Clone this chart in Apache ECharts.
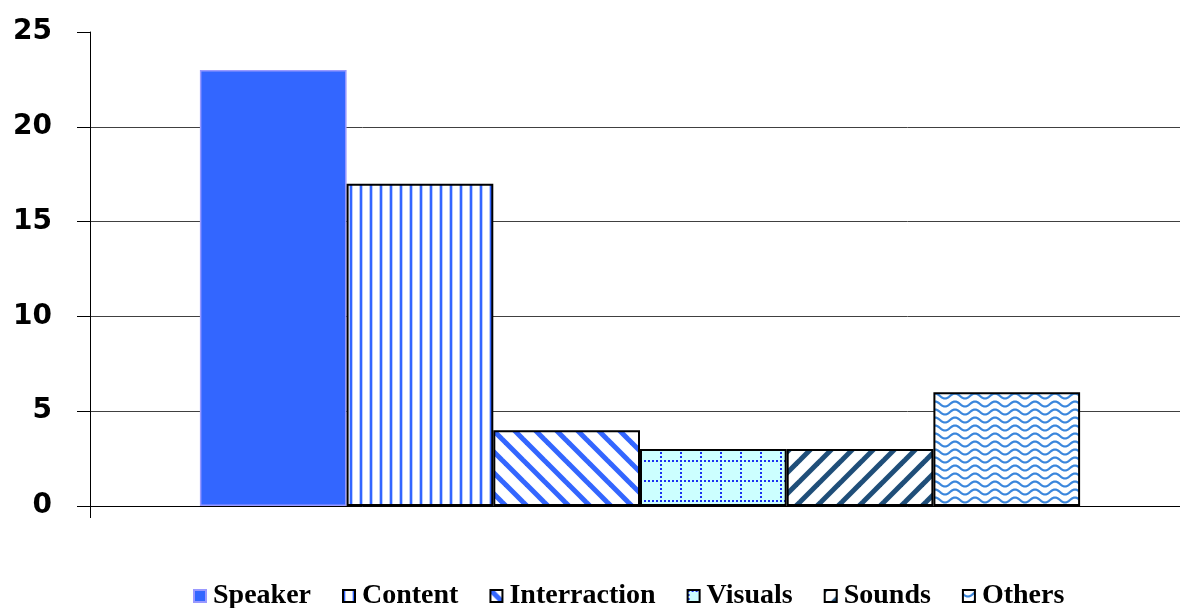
<!DOCTYPE html>
<html>
<head>
<meta charset="utf-8">
<script src="https://cdn.jsdelivr.net/npm/echarts@6.0.0/dist/echarts.min.js"></script>
<style>
  html, body { margin: 0; padding: 0; background: #fff; }
  #main { width: 1180px; height: 608px; }
</style>
</head>
<body>
<div id="main"></div>
<script>
// data
var categories = [''];
var seriesNames = ['Speaker', 'Content', 'Interraction', 'Visuals', 'Sounds', 'Others'];
var seriesValues = [23, 17, 4, 3, 3, 6];
var yTicks = [0, 5, 10, 15, 20, 25];

// little canvas tiles for the fills
function tile(w, h, draw) {
  var c = document.createElement('canvas');
  c.width = w;
  c.height = h;
  var ctx = c.getContext('2d');
  ctx.fillStyle = '#fff';
  ctx.fillRect(0, 0, w, h);
  draw(ctx, w, h);
  return { image: c, repeat: 'repeat' };
}

var fills = [
  '#3366FF',
  // vertical stripes
  tile(10, 10, function (ctx) {
    ctx.fillStyle = '#3366FF';
    ctx.fillRect(0, 0, 2, 10);
    ctx.fillStyle = '#bccdff';
    ctx.fillRect(2, 0, 1, 10);
    ctx.fillRect(9, 0, 1, 10);
  }),
  // "\" stripes
  tile(21, 21, function (ctx, w) {
    ctx.strokeStyle = '#3366FF';
    ctx.lineWidth = 5;
    for (var k = -1; k <= 1; k++) {
      ctx.beginPath();
      ctx.moveTo(k * w - 5, -5);
      ctx.lineTo(k * w + w + 5, w + 5);
      ctx.stroke();
    }
  }),
  // dotted grid on light cyan
  tile(20, 20, function (ctx, w, h) {
    ctx.fillStyle = '#CCFFFF';
    ctx.fillRect(0, 0, w, h);
    ctx.fillStyle = '#1a2ff0';
    for (var i = 0; i < w; i += 4) ctx.fillRect(i, 0, 2, 2);
    for (var j = 4; j < h; j += 4) ctx.fillRect(0, j, 2, 2);
  }),
  // "/" stripes dark
  tile(21, 21, function (ctx, w) {
    ctx.strokeStyle = '#1F4E79';
    ctx.lineWidth = 5;
    for (var k = -1; k <= 1; k++) {
      ctx.beginPath();
      ctx.moveTo(k * w - 5, w + 5);
      ctx.lineTo(k * w + w + 5, -5);
      ctx.stroke();
    }
  }),
  // waves
  tile(20, 8, function (ctx, w) {
    ctx.strokeStyle = '#3a86dc';
    ctx.lineWidth = 2.2;
    ctx.beginPath();
    for (var x = -1; x <= w + 1; x += 0.5) {
      var y = 4 + 2.5 * Math.sin(2 * Math.PI * x / w);
      if (x === -1) ctx.moveTo(x, y); else ctx.lineTo(x, y);
    }
    ctx.stroke();
  })
];

var series = seriesNames.map(function (name, i) {
  return {
    name: name,
    type: 'bar',
    xAxisIndex: 1,
    yAxisIndex: 1,
    barWidth: 146.7,
    barGap: '0%',
    data: [seriesValues[i]],
    itemStyle: {
      color: fills[i],
      borderColor: i === 0 ? '#9999FF' : '#000',
      borderWidth: i === 0 ? 1.5 : 2
    }
  };
});

var chart = echarts.init(document.getElementById('main'));
chart.setOption({
  animation: false,
  backgroundColor: '#fff',
  grid: [
    { left: 90, right: 0, top: 32, bottom: 102 },   // axes + gridlines
    { left: 100, right: 0, top: 32, bottom: 102 }   // bars
  ],
  legend: {
    data: seriesNames,
    left: 193,
    top: 582,
    padding: 0,
    icon: 'rect',
    itemWidth: 12,
    itemHeight: 12,
    itemGap: 31,
    textStyle: {
      fontFamily: 'Liberation Serif',
      fontWeight: 'bold',
      fontSize: 28,
      color: '#000',
      padding: [0, 0, 0, 2]
    }
  },
  xAxis: [{
    gridIndex: 0,
    type: 'category',
    data: categories,
    axisLine: { lineStyle: { color: '#000', width: 1 } },
    axisTick: { show: true, length: 12, lineStyle: { color: '#000' } },
    axisLabel: { show: false }
  }, {
    gridIndex: 1,
    type: 'category',
    data: categories,
    show: false
  }],
  yAxis: [{
    gridIndex: 0,
    type: 'value',
    min: yTicks[0],
    max: yTicks[yTicks.length - 1],
    interval: 5,
    axisLine: { show: true, lineStyle: { color: '#000', width: 1 } },
    axisTick: { show: true, length: 13, lineStyle: { color: '#000' } },
    axisLabel: {
      margin: 38,
      fontFamily: 'DejaVu Sans',
      fontWeight: 'bold',
      fontSize: 28,
      color: '#000'
    },
    splitLine: { show: true, showMaxLine: false, lineStyle: { color: '#404040', width: 1 } }
  }, {
    gridIndex: 1,
    type: 'value',
    min: yTicks[0],
    max: yTicks[yTicks.length - 1],
    interval: 5,
    show: false,
    splitLine: { show: false }
  }],
  series: series
});
</script>
</body>
</html>
